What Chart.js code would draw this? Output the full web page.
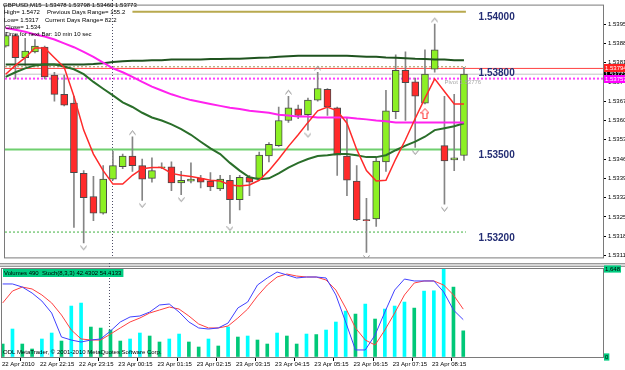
<!DOCTYPE html>
<html>
<head>
<meta charset="utf-8">
<script src="https://cdn.jsdelivr.net/npm/chart.js@4.4.1/dist/chart.umd.min.js"></script>
<style>
  body { margin: 0; background: #fff; }
  #wrap { position: relative; width: 625px; height: 370px; overflow: hidden; }
  #price { position: absolute; left: 0; top: 0; }
  #ind { position: absolute; left: 0; top: 263px; }
</style>
</head>
<body>
<div id="wrap">
  <canvas id="price" width="625" height="263"></canvas>
  <canvas id="ind" width="625" height="107"></canvas>
</div>
<script>
// GBPUSD M15, 22 Apr 21:15 .. 23 Apr 09:00
const opens = [1.53875,1.53913,1.53833,1.53854,1.53871,1.53770,1.53700,1.53668,1.53413,1.53329,
  1.53269,1.53392,1.53437,1.53476,1.53441,1.53395,1.53434,1.53437,1.53378,1.53385,
  1.53395,1.53385,1.53357,1.53388,1.53318,1.53399,1.53395,1.53476,1.53514,1.53605,
  1.53647,1.53626,1.53679,1.53718,1.53651,1.53476,1.53385,1.53245,1.53248,1.53455,
  1.53637,1.53787,1.53745,1.53668,1.53791,1.53514,1.53462,1.53478];
const highs = [1.53920,1.53917,1.53903,1.53899,1.53875,1.53780,1.53770,1.53693,1.53423,1.53402,
  1.53441,1.53493,1.53483,1.53546,1.53465,1.53469,1.53451,1.53455,1.53420,1.53451,
  1.53406,1.53416,1.53406,1.53406,1.53406,1.53406,1.53490,1.53525,1.53654,1.53693,
  1.53661,1.53686,1.53780,1.53721,1.53654,1.53616,1.53441,1.53322,1.53469,1.53714,
  1.53843,1.53854,1.53759,1.53861,1.53955,1.53693,1.53700,1.53798];
const lows = [1.53871,1.53756,1.53805,1.53850,1.53756,1.53675,1.53658,1.53217,1.53161,1.53241,
  1.53265,1.53388,1.53430,1.53420,1.53315,1.53381,1.53430,1.53350,1.53336,1.53378,
  1.53360,1.53350,1.53350,1.53231,1.53280,1.53332,1.53392,1.53455,1.53511,1.53598,
  1.53612,1.53570,1.53675,1.53623,1.53406,1.53332,1.53241,1.53126,1.53220,1.53420,
  1.53612,1.53605,1.53507,1.53665,1.53780,1.53301,1.53423,1.53460];
const closes = [1.53913,1.53833,1.53857,1.53875,1.53763,1.53700,1.53661,1.53416,1.53325,1.53269,
  1.53392,1.53441,1.53476,1.53441,1.53392,1.53423,1.53437,1.53378,1.53388,1.53392,
  1.53381,1.53364,1.53392,1.53318,1.53399,1.53381,1.53479,1.53518,1.53605,1.53651,
  1.53623,1.53679,1.53721,1.53654,1.53479,1.53388,1.53245,1.53241,1.53458,1.53640,
  1.53787,1.53742,1.53693,1.53773,1.53861,1.53458,1.53469,1.53773];

// moving averages
const maFast = [1.53773,1.53805,1.53833,1.53868,1.53868,1.53833,1.53798,1.53693,1.53570,1.53483,
  1.53423,1.53374,1.53374,1.53406,1.53430,1.53434,1.53434,1.53413,1.53406,1.53402,
  1.53395,1.53388,1.53385,1.53371,1.53367,1.53371,1.53388,1.53423,1.53465,1.53511,
  1.53553,1.53598,1.53640,1.53654,1.53640,1.53595,1.53500,1.53423,1.53385,1.53388,
  1.53465,1.53535,1.53612,1.53686,1.53756,1.53710,1.53665,1.53665];
const maMid = [1.53763,1.53780,1.53794,1.53805,1.53808,1.53808,1.53801,1.53791,1.53773,1.53745,
  1.53720,1.53696,1.53671,1.53654,1.53633,1.53616,1.53605,1.53591,1.53574,1.53553,
  1.53528,1.53504,1.53483,1.53451,1.53423,1.53399,1.53392,1.53395,1.53413,1.53434,
  1.53451,1.53465,1.53476,1.53479,1.53483,1.53483,1.53479,1.53472,1.53472,1.53479,
  1.53497,1.53514,1.53528,1.53546,1.53570,1.53577,1.53584,1.53595];
const maSlow = [1.53941,1.53934,1.53927,1.53917,1.53910,1.53899,1.53885,1.53871,1.53854,1.53836,
  1.53815,1.53794,1.53780,1.53763,1.53745,1.53728,1.53714,1.53700,1.53689,1.53679,
  1.53672,1.53665,1.53658,1.53651,1.53647,1.53640,1.53637,1.53633,1.53626,1.53623,
  1.53619,1.53619,1.53616,1.53616,1.53616,1.53616,1.53612,1.53609,1.53605,1.53602,
  1.53598,1.53598,1.53598,1.53598,1.53598,1.53598,1.53598,1.53598];
const maLong = [1.53808,1.53808,1.53808,1.53808,1.53808,1.53808,1.53808,1.53808,1.53808,1.53810,
  1.53813,1.53817,1.53820,1.53822,1.53822,1.53824,1.53824,1.53826,1.53826,1.53826,
  1.53826,1.53828,1.53828,1.53829,1.53829,1.53831,1.53833,1.53834,1.53836,1.53838,
  1.53840,1.53840,1.53840,1.53840,1.53840,1.53840,1.53838,1.53836,1.53836,1.53834,
  1.53833,1.53831,1.53829,1.53828,1.53826,1.53826,1.53824,1.53824];

const fractalUp = [13, 29, 32, 44];
const fractalDown = [8, 14, 18, 23, 31, 37, 42, 45];
const signalBar = 43, signalPrice = 1.53630;

const roundLevels = [1.54000, 1.53800, 1.53500, 1.53200];
const askPrice = 1.53794;
const bidPrice = closes[closes.length - 1];
const lowerLevel = 1.53757;
const pivotPrice = 1.53776;

const priceTicks = [1.53115,1.53185,1.53255,1.53325,1.53395,1.53465,1.53535,
  1.53605,1.53675,1.53745,1.53815,1.53885,1.53955];

// indicator window
const volumes = [243,524,243,150,337,449,299,954,1010,561,542,505,299,337,449,393,281,337,430,281,
  187,337,206,561,374,393,318,243,449,393,243,430,420,505,655,860,804,991,711,898,
  954,1029,916,1234,1240,1648,1309,490];
const stochMain = [83.0,83.0,79.5,72.7,63.6,50.0,22.7,19.3,17.0,19.3,20.5,29.5,39.8,45.5,46.6,51.1,
  59.1,60.2,51.1,39.8,33.0,31.8,33.0,38.6,55.7,62.5,81.8,89.8,96.6,93.2,89.8,90.9,
  90.9,89.8,70.5,39.8,8.0,8.0,25.0,51.1,76.1,88.6,86.4,86.4,86.4,73.9,53.4,42.4302];
const stochSignal = [61.4,75.0,79.5,77.3,70.5,61.4,47.7,30.7,20.5,19.3,19.3,26.1,33.0,39.8,44.3,50.0,
  53.4,56.8,54.5,46.6,37.5,33.0,33.0,35.2,44.3,54.5,69.3,81.8,90.9,94.3,92.0,90.9,
  90.9,87.5,76.1,55.7,33.0,19.3,13.6,30.7,50.0,70.5,84.1,86.4,86.4,81.8,70.5,54.4133];
const volMax = 1648;

const timeLabels = ['22 Apr 2010','22 Apr 22:15','22 Apr 23:15','23 Apr 00:15','23 Apr 01:15',
  '23 Apr 02:15','23 Apr 03:15','23 Apr 04:15','23 Apr 05:15','23 Apr 06:15','23 Apr 07:15','23 Apr 08:15'];
const labelBars = [0, 4, 8, 12, 16, 20, 24, 28, 32, 36, 40, 44];
const daySeparators = [11];

// ---------------------------------------------------------------
const xMin = -0.07, xMax = 61.26;
const yMin = 1.53108, yMax = 1.54022;
const last = closes.length - 1;
const idx = closes.map((_, i) => i);

function hasFont(name) {
  const c = document.createElement('canvas').getContext('2d');
  const s = 'abcdefghijklmnopqrstuvwxyz 0123456789';
  c.font = '20px monospace';
  const w1 = c.measureText(s).width;
  c.font = "20px '" + name + "', monospace";
  return c.measureText(s).width !== w1;
}
const FAM = hasFont('Liberation Sans Narrow') ? "'Liberation Sans Narrow'" : "'Liberation Sans'";
const FS = FAM.indexOf('Narrow') >= 0 ? 7 : 6;
const small = FS + 'px ' + FAM;

Chart.defaults.font.family = FAM;
Chart.defaults.animation = false;

function chevron(up) {
  const c = document.createElement('canvas');
  c.width = 7; c.height = 19;
  const g = c.getContext('2d');
  g.strokeStyle = '#8c8c8c';
  g.lineWidth = 1;
  g.beginPath();
  if (up) { g.moveTo(0.5, 7.5); g.lineTo(3.5, 3.5); g.lineTo(6.5, 7.5); }
  else { g.moveTo(0.5, 12.5); g.lineTo(3.5, 16.5); g.lineTo(6.5, 12.5); }
  g.stroke();
  return c;
}
function signalArrow() {
  const c = document.createElement('canvas');
  c.width = 9; c.height = 11;
  const g = c.getContext('2d');
  g.beginPath();
  g.moveTo(4.5, 0.5); g.lineTo(8.5, 5); g.lineTo(6.5, 5); g.lineTo(6.5, 10.5);
  g.lineTo(2.5, 10.5); g.lineTo(2.5, 5); g.lineTo(0.5, 5); g.closePath();
  g.fillStyle = '#fff'; g.fill();
  g.strokeStyle = '#ff3030'; g.lineWidth = 1; g.stroke();
  return c;
}

function hLine(price, x0, x1, color, width, dash, order) {
  return {
    type: 'line', data: [{ x: x0, y: price }, { x: x1, y: price }],
    borderColor: color, borderWidth: width, borderDash: dash,
    pointRadius: 0, order: order
  };
}
function maLine(values, color, width, order) {
  return {
    type: 'line', data: idx.map(i => ({ x: i, y: values[i] })),
    borderColor: color, borderWidth: width, pointRadius: 0, tension: 0, order: order
  };
}

const levelEnd = 47.2;
const levelStyles = [
  { color: '#b8a94e', width: 2, dash: [], from: 13 },
  { color: '#a8975a', width: 1, dash: [2, 2], from: xMin },
  { color: '#6fcf6f', width: 2, dash: [], from: xMin },
  { color: '#40b040', width: 1, dash: [2, 2], from: xMin }
];

const datasets = [];
roundLevels.forEach((p, i) => {
  const s = levelStyles[i];
  datasets.push(hLine(p, s.from, levelEnd, s.color, s.width, s.dash, 10));
});
datasets.push(hLine(bidPrice, xMin, xMax, '#c4c4c4', 1, [], 10));
datasets.push(hLine(askPrice, xMin, xMax, '#ff4040', 1, [], 10));
datasets.push(hLine(lowerLevel, xMin, xMax, '#ff40ff', 2, [2, 2], 10));

datasets.push({
  type: 'bar', data: idx.map(i => ({ x: i, y: [lows[i], highs[i]] })),
  backgroundColor: '#858585', barThickness: 1, grouped: false, order: 8
});
datasets.push({
  type: 'bar', data: idx.map(i => ({ x: i, y: [opens[i], closes[i]] })),
  backgroundColor: idx.map(i => closes[i] >= opens[i] ? '#8cf024' : '#ff2a2a'),
  borderColor: '#4a4a4a', borderWidth: 1, borderSkipped: false,
  barThickness: 7, grouped: false, order: 7
});
datasets.push(maLine(maLong, '#1f531f', 2, 5));
datasets.push(maLine(maMid, '#2a6e2a', 2, 4));
datasets.push(maLine(maSlow, '#ff22ee', 2, 3));
datasets.push(maLine(maFast, '#ff2a2a', 1.5, 2));
datasets.push({
  type: 'line', showLine: false, data: fractalUp.map(i => ({ x: i, y: highs[i] })),
  pointStyle: chevron(true), pointRadius: 4, order: 1
});
datasets.push({
  type: 'line', showLine: false, data: fractalDown.map(i => ({ x: i, y: lows[i] })),
  pointStyle: chevron(false), pointRadius: 4, order: 1
});
datasets.push({
  type: 'line', showLine: false, data: [{ x: signalBar, y: signalPrice }],
  pointStyle: signalArrow(), pointRadius: 4, order: 1
});

function drawSeparators(chart, y0, y1) {
  const { ctx, scales: { x } } = chart;
  ctx.save();
  ctx.strokeStyle = '#4e4e66';
  ctx.lineWidth = 1;
  ctx.setLineDash([1, 2]);
  daySeparators.forEach(b => {
    const px = Math.round(x.getPixelForValue(b) - 1) + 0.5;
    ctx.beginPath(); ctx.moveTo(px, y0); ctx.lineTo(px, y1); ctx.stroke();
  });
  ctx.restore();
}
function frame(ctx, a) {
  ctx.strokeStyle = '#7a7a7a';
  ctx.lineWidth = 1;
  ctx.setLineDash([]);
  ctx.strokeRect(a.left - 0.5, a.top - 0.5, a.right - a.left + 1, a.bottom - a.top + 1);
}

const mainDecor = {
  id: 'mainDecor',
  beforeDatasetsDraw(chart) {
    drawSeparators(chart, 0, chart.chartArea.bottom);
  },
  afterDatasetsDraw(chart) {
    const { ctx, chartArea: a, scales: { x, y } } = chart;
    ctx.save();
    frame(ctx, a);
    // round number labels
    ctx.fillStyle = '#242e74';
    ctx.font = "bold 10px 'Liberation Sans'";
    ctx.textBaseline = 'top';
    ctx.textAlign = 'left';
    roundLevels.forEach(p => ctx.fillText(p.toFixed(5), x.getPixelForValue(48.5), y.getPixelForValue(p) + 1));
    // pivot
    ctx.fillStyle = '#a8a8a8';
    ctx.font = small;
    ctx.textBaseline = 'middle';
    ctx.fillText('Pivot ' + pivotPrice.toFixed(5), x.getPixelForValue(45), y.getPixelForValue(pivotPrice) + 9);
    // header
    ctx.fillStyle = '#000';
    ctx.fillText('GBPUSD,M15  ' + [opens[last], highs[last], lows[last], closes[last]].map(v => v.toFixed(5)).join(' '), 3, 5);
    ctx.fillText('High= 1.5472', 4, 12.5);
    ctx.fillText('Previous Days Range= 155.2', 47, 12.5);
    ctx.fillText('Low= 1.5317', 4, 20);
    ctx.fillText('Current Days Range= 82.2', 45, 20);
    ctx.fillText('Close= 1.534', 5, 27);
    ctx.fillText('Time for next Bar: 10 min 10 sec', 5, 34);
    ctx.restore();
  },
  afterDraw(chart) {
    const { ctx, chartArea: a, scales: { y } } = chart;
    ctx.save();
    ctx.font = small;
    ctx.textBaseline = 'middle';
    [[bidPrice, '#000'], [askPrice, '#ff2020'], [lowerLevel, '#ff00ff']].forEach(([p, bg]) => {
      const py = Math.round(y.getPixelForValue(p));
      ctx.fillStyle = bg;
      ctx.fillRect(a.right + 1, py - 4, 22, 8);
      ctx.fillStyle = '#fff';
      ctx.fillText(p.toFixed(5), a.right + 2, py);
    });
    ctx.restore();
  }
};

new Chart(document.getElementById('price'), {
  type: 'bar',
  data: { datasets: datasets },
  options: {
    responsive: false,
    animation: false,
    layout: { padding: { left: 2, top: 1, right: 0, bottom: 1 } },
    plugins: { legend: { display: false }, tooltip: { enabled: false } },
    scales: {
      x: { type: 'linear', min: xMin, max: xMax, offset: false, display: false },
      y: {
        type: 'linear', position: 'right', min: yMin, max: yMax,
        afterBuildTicks: s => { s.ticks = priceTicks.map(v => ({ value: v })); },
        afterFit: s => { s.width = 22; },
        ticks: { font: { family: FAM, size: FS }, color: '#000', padding: 2, autoSkip: false,
          callback: v => v.toFixed(5) },
        grid: { drawOnChartArea: false, tickLength: 3, color: '#000' },
        border: { display: false }
      }
    }
  },
  plugins: [mainDecor]
});

// ---------------- indicator window ----------------
const indDecor = {
  id: 'indDecor',
  beforeDraw(chart) {
    const { ctx } = chart;
    ctx.save();
    ctx.fillStyle = '#9a9a9a';
    ctx.fillRect(0, 0, 625, 4);
    ctx.fillStyle = '#d6d6d6';
    ctx.fillRect(0, 1, 625, 2);
    ctx.restore();
  },
  beforeDatasetsDraw(chart) {
    drawSeparators(chart, 0, chart.chartArea.bottom);
  },
  afterDatasetsDraw(chart) {
    const { ctx, chartArea: a } = chart;
    ctx.save();
    frame(ctx, a);
    const label = 'Volumes ' + volumes[last] + '  Stoch(8,3,3) ' + stochMain[last].toFixed(4) + ' ' + stochSignal[last].toFixed(4);
    ctx.font = small;
    const w = ctx.measureText(label).width;
    ctx.fillStyle = '#00cc80';
    ctx.fillRect(a.left + 1, a.top, w + 3, 8);
    ctx.fillStyle = '#000';
    ctx.textBaseline = 'middle';
    ctx.fillText(label, a.left + 2, a.top + 4);
    ctx.fillText('ODL MetaTrader, \u00a9 2001-2010 MetaQuotes Software Corp.', a.left + 1, a.bottom - 5);
    ctx.restore();
  }
};

new Chart(document.getElementById('ind'), {
  type: 'bar',
  data: {
    datasets: [
      { type: 'line', data: idx.map(i => ({ x: i, y: stochMain[i] })), borderColor: '#4040ff',
        borderWidth: 1, pointRadius: 0, yAxisID: 'ys', order: 1 },
      { type: 'line', data: idx.map(i => ({ x: i, y: stochSignal[i] })), borderColor: '#ff4040',
        borderWidth: 1, pointRadius: 0, yAxisID: 'ys', order: 2 },
      { type: 'bar', data: idx.map(i => ({ x: i, y: volumes[i] })),
        backgroundColor: idx.map(i => i > 0 && volumes[i] >= volumes[i - 1] ? '#00ffff' : '#00c878'),
        barThickness: 3, grouped: false, yAxisID: 'yv', order: 3 }
    ]
  },
  options: {
    responsive: false,
    animation: false,
    layout: { padding: { left: 2, top: 6, right: 0, bottom: 0 } },
    plugins: { legend: { display: false }, tooltip: { enabled: false } },
    scales: {
      x: {
        type: 'linear', min: xMin, max: xMax, offset: false, position: 'bottom',
        afterBuildTicks: s => { s.ticks = labelBars.map(b => ({ value: Math.max(b - 0.2, xMin) })); },
        afterFit: s => { s.height = 13; },
        ticks: { font: { family: FAM, size: FS }, color: '#000', align: 'start', padding: 0,
          autoSkip: false, maxRotation: 0, callback: (v, i) => timeLabels[i] },
        grid: { drawOnChartArea: false, tickLength: 4, color: '#000' },
        border: { display: false }
      },
      yv: {
        type: 'linear', position: 'right', min: 0, max: volMax,
        afterBuildTicks: s => { s.ticks = [{ value: 0 }, { value: volMax }]; },
        afterFit: s => { s.width = 22; },
        ticks: { font: { family: FAM, size: FS }, color: '#000', padding: 2,
          showLabelBackdrop: true, backdropColor: '#00cc80', backdropPadding: { top: 0, bottom: 0, left: 1, right: 1 } },
        grid: { drawOnChartArea: false, drawTicks: false },
        border: { display: false }
      },
      ys: { type: 'linear', min: 0, max: 100, display: false }
    }
  },
  plugins: [indDecor]
});
</script>
</body>
</html>
